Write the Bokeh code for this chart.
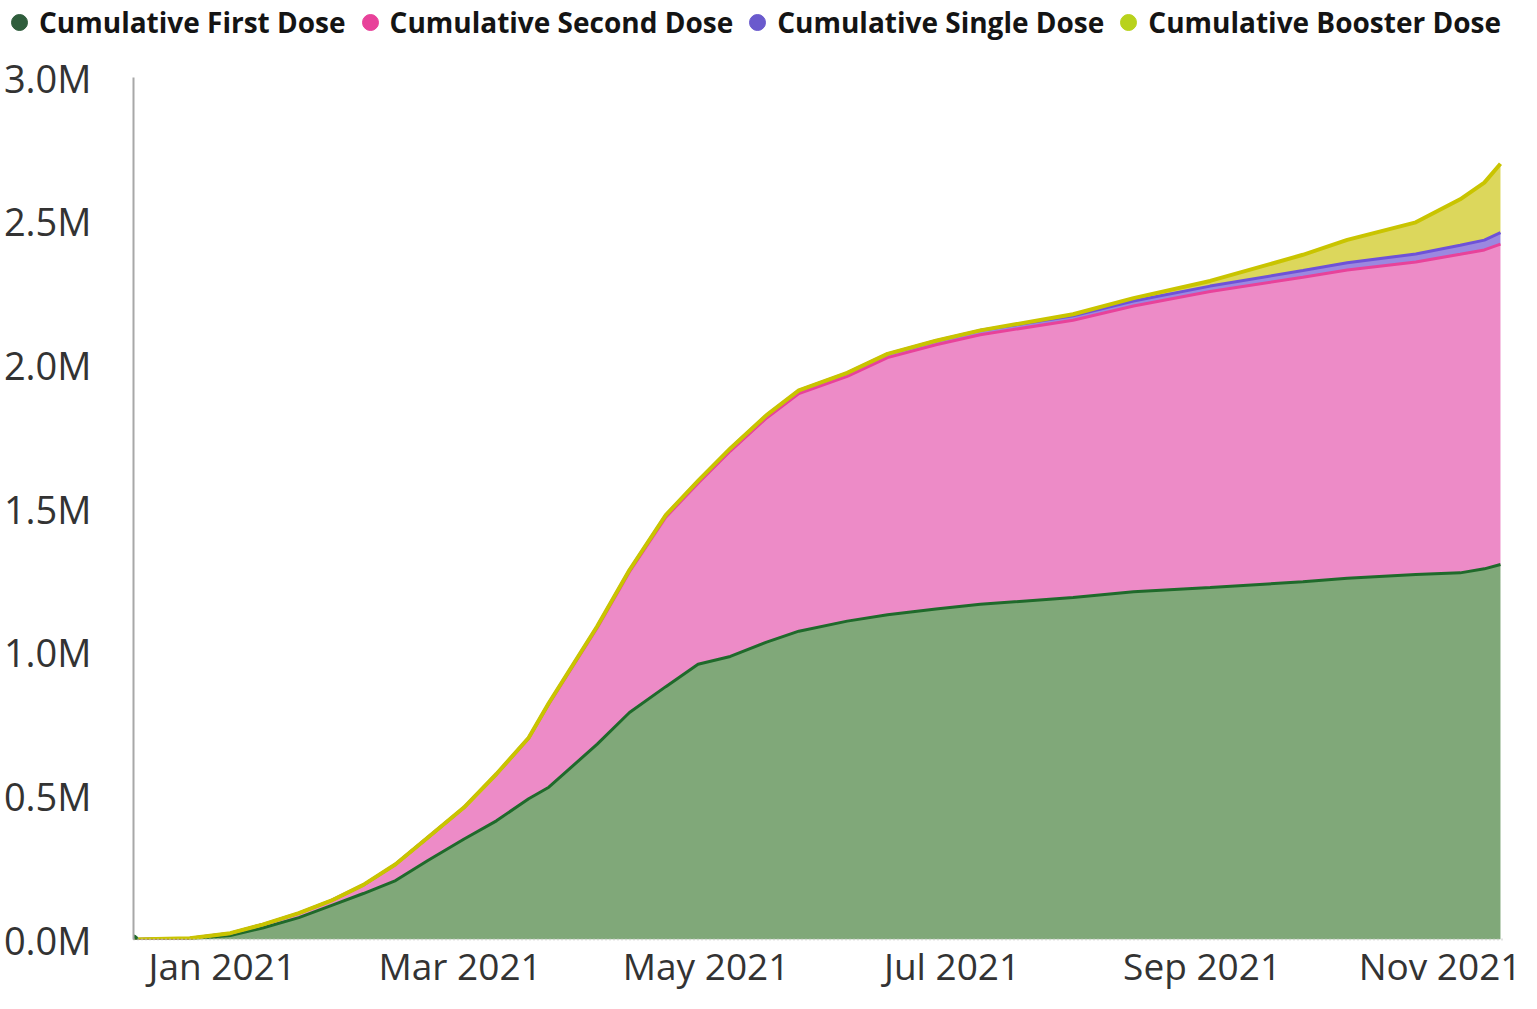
import numpy as np
import pandas as pd
from bokeh.plotting import figure
from bokeh.layouts import column, row
from bokeh.models import (ColumnDataSource, FixedTicker, Legend, LegendItem, Range1d,
                          DatetimeTickFormatter, CustomJSTickFormatter)
from bokeh.embed import file_html
from bokeh.resources import INLINE

# ---- data (values in millions of doses) ----
dates = ["2020-12-10", "2020-12-24", "2021-01-03", "2021-01-11", "2021-01-20", "2021-01-28",
         "2021-02-05", "2021-02-13", "2021-02-21", "2021-03-02", "2021-03-10", "2021-03-18",
         "2021-03-23", "2021-04-04", "2021-04-12", "2021-04-21", "2021-04-29", "2021-05-07",
         "2021-05-16", "2021-05-24", "2021-06-05", "2021-06-15", "2021-06-27", "2021-07-08",
         "2021-07-31", "2021-08-15", "2021-09-03", "2021-09-26", "2021-10-07", "2021-10-24",
         "2021-11-04", "2021-11-10", "2021-11-14"]

first_dose = [0.000, 0.003, 0.014, 0.040, 0.076, 0.118, 0.160, 0.205, 0.275, 0.350, 0.413, 0.490,
              0.530, 0.680, 0.790, 0.880, 0.958, 0.985, 1.035, 1.073, 1.108, 1.130, 1.150, 1.167,
              1.190, 1.210, 1.225, 1.245, 1.257, 1.270, 1.276, 1.290, 1.305]

second_dose = [0.000, 0.001, 0.008, 0.012, 0.016, 0.017, 0.030, 0.057, 0.080, 0.110, 0.162, 0.210,
               0.290, 0.405, 0.490, 0.590, 0.630, 0.715, 0.780, 0.827, 0.852, 0.895, 0.920, 0.938,
               0.965, 0.995, 1.030, 1.060, 1.073, 1.088, 1.109, 1.110, 1.115]

single_dose = [0.000, 0.000, 0.000, 0.000, 0.000, 0.000, 0.000, 0.000, 0.000, 0.000, 0.001, 0.002,
               0.003, 0.005, 0.006, 0.007, 0.008, 0.009, 0.010, 0.011, 0.012, 0.013, 0.014, 0.015,
               0.016, 0.017, 0.019, 0.023, 0.025, 0.028, 0.031, 0.034, 0.040]

booster_dose = [0.000, 0.000, 0.000, 0.000, 0.000, 0.000, 0.000, 0.000, 0.000, 0.000, 0.000, 0.000,
                0.000, 0.000, 0.000, 0.000, 0.000, 0.000, 0.000, 0.000, 0.000, 0.000, 0.000, 0.000,
                0.005, 0.010, 0.018, 0.055, 0.080, 0.110, 0.160, 0.200, 0.240]

series_names = ["Cumulative First Dose", "Cumulative Second Dose",
                "Cumulative Single Dose", "Cumulative Booster Dose"]
tick_months = ["2021-01-01", "2021-03-01", "2021-05-01", "2021-07-01", "2021-09-01", "2021-11-01"]
y_ticks = [0.0, 0.5, 1.0, 1.5, 2.0, 2.5, 3.0]

# ---- styling ----
fill_colors = ["#80a879", "#ed8bc7", "#9b88e0", "#dcd75c"]
line_colors = ["#1f6a2b", "#e8429a", "#6e52d8", "#c9c400"]
dot_colors = ["#2f5d3c", "#e8429a", "#6a5acd", "#b8d21c"]

W = 1521
LEG_H = 46
MAIN_H = 993 - LEG_H

x = pd.to_datetime(dates)
layers = [np.array(first_dose), np.array(second_dose), np.array(single_dose), np.array(booster_dose)]
tops = np.cumsum(np.vstack(layers), axis=0)
bottoms = np.vstack([np.zeros(len(dates)), tops[:-1]])

src = ColumnDataSource(dict(x=x,
                            b0=bottoms[0], t0=tops[0], b1=bottoms[1], t1=tops[1],
                            b2=bottoms[2], t2=tops[2], b3=bottoms[3], t3=tops[3]))

x_start = pd.Timestamp(dates[0])
x_end = pd.Timestamp(dates[-1]) + pd.Timedelta(hours=12)

# ---- legend strip (its own small figure; the series points fall outside its ranges) ----
pl = figure(width=W, height=LEG_H, output_backend="svg", toolbar_location=None,
            x_range=Range1d(0, 1), y_range=Range1d(0, 1),
            min_border_left=0, min_border_right=0, min_border_top=0, min_border_bottom=0,
            x_axis_location=None, y_axis_location=None)
pl.outline_line_color = None
pl.xgrid.visible = False
pl.ygrid.visible = False
items = []
for i, name in enumerate(series_names):
    r = pl.scatter(x="x", y=f"t{i}", source=src, size=16,
                   fill_color=dot_colors[i], line_color=dot_colors[i])
    items.append(LegendItem(label=name, renderers=[r]))
legend = Legend(items=items, orientation="horizontal", location=(-1, LEG_H - 42),
                glyph_width=40, glyph_height=40, label_standoff=0, spacing=4,
                padding=0, margin=0, background_fill_alpha=0, border_line_color=None,
                label_text_font="Open Sans", label_text_font_style="bold",
                label_text_font_size="28px", label_text_color="#141414",
                label_height=40)
pl.add_layout(legend, "center")

# ---- main chart ----
p = figure(width=W, height=MAIN_H, x_axis_type="datetime", output_backend="svg",
           toolbar_location=None, x_range=Range1d(x_start, x_end), y_range=Range1d(0, 3.0),
           min_border_left=125, min_border_top=77 - LEG_H, min_border_right=19,
           min_border_bottom=40)
p.outline_line_color = None
p.background_fill_color = "white"
p.xgrid.visible = False
p.ygrid.visible = False

for i in range(4):
    p.varea(x="x", y1=f"b{i}", y2=f"t{i}", source=src, fill_color=fill_colors[i], fill_alpha=1.0)
widths = [3, 3, 3, 4]
for i in range(4):
    p.line(x="x", y=f"t{i}", source=src, line_color=line_colors[i], line_width=widths[i])

start_src = ColumnDataSource(dict(x=x[:1], y=tops[0][:1]))
p.scatter(x="x", y="y", source=start_src, size=9, fill_color="#1f6a2b", line_color="#1f6a2b")

# y axis
yax = p.yaxis[0]
yax.ticker = FixedTicker(ticks=y_ticks)
yax.formatter = CustomJSTickFormatter(code="return tick.toFixed(1) + 'M';")
yax.axis_line_color = "#a8a8a8"
yax.axis_line_width = 2
yax.major_tick_line_color = None
yax.minor_tick_line_color = None
yax.major_tick_out = 0
yax.major_tick_in = 0
yax.major_label_standoff = 42
yax.major_label_text_font = "Open Sans"
yax.major_label_text_font_size = "38px"
yax.major_label_text_color = "#333333"

# x axis
xax = p.xaxis[0]
month_ms = [pd.Timestamp(m).value / 1e6 for m in tick_months]
xax.ticker = FixedTicker(ticks=month_ms)
fmt = "%b %Y"
xax.formatter = DatetimeTickFormatter(milliseconds=fmt, seconds=fmt, minsec=fmt, minutes=fmt,
                                      hourmin=fmt, hours=fmt, days=fmt, months=fmt, years=fmt)
xax.axis_line_color = "#c8c8c8"
xax.axis_line_dash = "1 3"
xax.axis_line_width = 2
xax.major_tick_line_color = None
xax.minor_tick_line_color = None
xax.major_tick_out = 0
xax.major_tick_in = 0
xax.major_label_standoff = 0
xax.major_label_text_font = "Open Sans"
xax.major_label_text_font_size = "37px"
xax.major_label_text_line_height = 1.0
xax.major_label_text_color = "#333333"

# keep the legend strip's frame independent of the chart's frame
try:
    pl.frame_align = False
    p.frame_align = False
    layout = column(pl, p, spacing=0)
except (AttributeError, ValueError):
    layout = column(row(pl), p, spacing=0)

open("out.html", "w").write(file_html(layout, INLINE))
